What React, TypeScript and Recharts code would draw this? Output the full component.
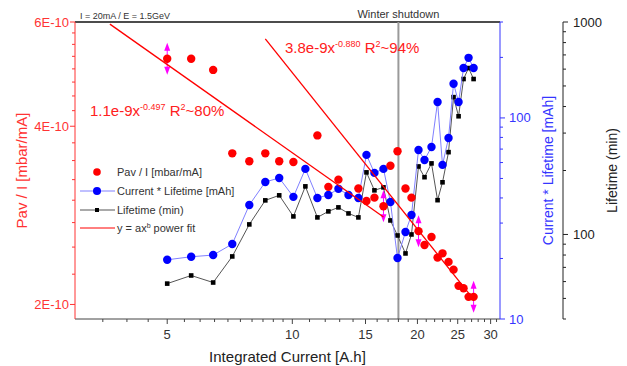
import {
  ComposedChart,
  Scatter,
  XAxis,
  YAxis,
  ReferenceLine,
  Legend,
} from "recharts";

// integrated current [A.h] for the lifetime series
const current = [
  5.0, 5.71, 6.45, 7.17, 7.88, 8.61, 9.3, 10.06, 10.75, 11.49, 12.21, 12.91,
  13.65, 14.42, 15.08, 15.76, 16.57, 17.22, 17.91, 18.72, 19.35, 20.12, 20.8,
  21.62, 22.36, 22.98, 23.76, 24.43, 25.12, 25.82, 26.55, 27.3,
];
const currentLifetime = [
  19.7, 20.4, 20.8, 23.6, 36.9, 48.0, 50.3, 40.5, 55.8, 40.0, 41.4, 44.4, 41.4,
  40.0, 65.5, 53.3, 55.8, 38.2, 20.1, 27.1, 32.9, 69.3, 61.8, 71.7, 120, 58.4,
  79.5, 148, 120, 177, 199, 177,
];
const lifetime = [
  58.7, 64.1, 59.4, 78.8, 111.5, 144.7, 152.8, 121.6, 168.4, 120.3, 128.4,
  134.1, 125.6, 120.3, 196, 161.3, 166.6, 116.4, 98.9, 81.4, 100, 209, 186,
  216, 145, 176, 244, 443, 360, 539, 607, 539,
];

// pressure / current
const pavCurrent = [
  5.0, 5.71, 6.45, 7.17, 7.88, 8.61, 9.3, 10.06, 11.49, 12.21, 12.91, 14.42,
  15.08, 15.76, 16.57, 17.22, 17.91, 18.72, 19.35, 20.12, 20.8, 21.62, 22.36,
  22.98, 23.76, 24.43, 25.12, 25.82, 26.55, 27.3,
];
const pavPerCurrent = [
  5.2e-10, 5.2e-10, 4.98e-10, 3.6e-10, 3.49e-10, 3.6e-10, 3.49e-10, 3.48e-10,
  3.86e-10, 3.16e-10, 3.25e-10, 3.14e-10, 2.99e-10, 3.03e-10, 2.93e-10,
  3.43e-10, 3.63e-10, 3.14e-10, 3.03e-10, 2.66e-10, 2.52e-10, 2.6e-10, 2.4e-10,
  2.44e-10, 2.36e-10, 2.29e-10, 2.15e-10, 2.13e-10, 2.06e-10, 2.06e-10,
];

// power fits (end points)
const fitLowCurrent = [3.64, 16.57];
const fitLowPav = [5.95e-10, 2.81e-10];
const fitHighCurrent = [8.61, 27.3];
const fitHighPav = [5.62e-10, 2.04e-10];

// error arrows
const arrowCurrent = [5.0, 16.57, 20.12, 27.3];
const arrowPav = [5.2e-10, 2.93e-10, 2.66e-10, 2.06e-10];

const shutdownAt = 18;

const xTicks = [
  3.5, 4, 4.5, 5, 5.5, 6, 6.5, 7, 7.5, 8, 8.5, 9, 9.5, 10, 11, 12, 13, 14, 15,
  16, 17, 18, 19, 20, 21, 22, 23, 24, 25, 26, 27, 28, 29, 30, 31,
];
const xMajor = [5, 10, 15, 20, 25, 30];

const leftTicks = [
  2e-10, 2.25e-10, 2.5e-10, 2.75e-10, 3e-10, 3.25e-10, 3.5e-10, 3.75e-10,
  4e-10, 4.25e-10, 4.5e-10, 4.75e-10, 5e-10, 5.25e-10, 5.5e-10, 5.75e-10,
  6e-10,
];
const leftMajor = [2e-10, 4e-10, 6e-10];
const leftLabels = ["2E-10", "4E-10", "6E-10"];

const blueTicks = [10, 20, 30, 40, 50, 60, 70, 80, 90, 100, 200, 300];
const blueMajor = [10, 100];

const blackTicks = [
  40, 50, 60, 70, 80, 90, 100, 200, 300, 400, 500, 600, 700, 800, 900, 1000,
];
const blackMajor = [100, 1000];

const legendLabels = [
  "Pav / I [mbar/mA]",
  "Current * Lifetime [mAh]",
  "Lifetime (min)",
  "power fit",
];

const RED = "#ff0000";
const RED_AXIS = "#ff3333";
const BLUE = "#0000ff";
const BLUE_AXIS = "#3535ff";

const zip = (xs: number[], ys: number[]) => xs.map((x, i) => ({ x, y: ys[i] }));

const pavData = zip(pavCurrent, pavPerCurrent);
const clData = zip(current, currentLifetime);
const ltData = zip(current, lifetime);
const fitLowData = zip(fitLowCurrent, fitLowPav);
const fitHighData = zip(fitHighCurrent, fitHighPav);
const arrowData = zip(arrowCurrent, arrowPav);

function XTick({ x, y, payload }: any) {
  const major = xMajor.includes(payload.value);
  const axisY = y - 11;
  return (
    <g>
      <line x1={x} x2={x} y1={axisY} y2={axisY + (major ? 5 : 3)} stroke="#444" />
      {major && (
        <text x={x} y={y} dy="0.71em" textAnchor="middle" fontSize={13} fill="#333">
          {payload.value}
        </text>
      )}
    </g>
  );
}

function LeftTick({ x, y, payload }: any) {
  const idx = leftMajor.indexOf(payload.value);
  const axisX = x + 6;
  return (
    <g>
      <line x1={axisX} x2={axisX - (idx >= 0 ? 5 : 3)} y1={y} y2={y} stroke={RED_AXIS} />
      {idx >= 0 && (
        <text x={x} y={y} dy="0.35em" textAnchor="end" fontSize={13} fill={RED_AXIS}>
          {leftLabels[idx]}
        </text>
      )}
    </g>
  );
}

function BlueTick({ x, y, payload }: any) {
  const major = blueMajor.includes(payload.value);
  const axisX = x - 9;
  return (
    <g>
      <line x1={axisX} x2={axisX + (major ? 5 : 3)} y1={y} y2={y} stroke={BLUE_AXIS} />
      {major && (
        <text x={x} y={y} dy="0.35em" textAnchor="start" fontSize={13} fill={BLUE_AXIS}>
          {payload.value}
        </text>
      )}
    </g>
  );
}

function BlackTick({ x, y, payload }: any) {
  const major = blackMajor.includes(payload.value);
  const axisX = x - 10;
  return (
    <g>
      <line x1={axisX} x2={axisX + (major ? 5 : 3)} y1={y} y2={y} stroke="#222" />
      {major && (
        <text x={x} y={y} dy="0.35em" textAnchor="start" fontSize={13} fill="#222">
          {payload.value}
        </text>
      )}
    </g>
  );
}

const RedDot = (p: any) => <circle cx={p.cx} cy={p.cy} r={4.2} fill={RED} />;
const BlueDot = (p: any) => <circle cx={p.cx} cy={p.cy} r={4.2} fill={BLUE} />;
const BlackSquare = (p: any) => (
  <rect x={p.cx - 2.3} y={p.cy - 2.3} width={4.6} height={4.6} fill="#000" />
);
const NoDot = () => <g />;
const Arrow = (p: any) => {
  const { cx, cy } = p;
  return (
    <g fill="#ff00ff" stroke="#ff00ff">
      <line x1={cx} x2={cx} y1={cy - 12} y2={cy + 12} strokeWidth={1} />
      <path d={`M${cx},${cy - 16} L${cx - 3},${cy - 8} L${cx + 3},${cy - 8} Z`} stroke="none" />
      <path d={`M${cx},${cy + 16} L${cx - 3},${cy + 8} L${cx + 3},${cy + 8} Z`} stroke="none" />
    </g>
  );
};

function LegendBox() {
  const rows = [10, 29, 48, 66];
  return (
    <svg width={200} height={80} style={{ display: "block" }}>
      <circle cx={19} cy={rows[0]} r={3.8} fill={RED} />
      <line x1={2} x2={37} y1={rows[1]} y2={rows[1]} stroke="#8080ff" />
      <circle cx={19} cy={rows[1]} r={4} fill={BLUE} />
      <line x1={2} x2={37} y1={rows[2]} y2={rows[2]} stroke="#555" />
      <rect x={17} y={rows[2] - 2} width={4} height={4} fill="#000" />
      <line x1={2} x2={37} y1={rows[3]} y2={rows[3]} stroke={RED} />
      {legendLabels.map((l, i) => (
        <text key={l} x={39} y={rows[i]} dy="0.35em" fontSize={11} fill="#333">
          {i === 3 ? (
            <>
              y = ax<tspan dy={-4} fontSize={7}>b</tspan>
              <tspan dy={4}>{" " + l}</tspan>
            </>
          ) : (
            l
          )}
        </text>
      ))}
    </svg>
  );
}

export default function App() {
  return (
    <div
      style={{
        position: "absolute",
        left: 0,
        top: 0,
        width: 627,
        height: 366,
        background: "#fff",
        fontFamily: "Arial, 'Liberation Sans', sans-serif",
      }}
    >
      <ComposedChart
        width={627}
        height={366}
        margin={{ top: 22, right: 0, bottom: 0, left: 0 }}
      >
        <XAxis
          dataKey="x"
          type="number"
          scale="log"
          domain={[3, 31.6]}
          allowDataOverflow
          ticks={xTicks}
          interval={0}
          height={47}
          stroke="#444"
          tickLine={false}
          tickSize={5}
          tickMargin={6}
          tick={(p: any) => <XTick {...p} />}
          label={{
            value: "Integrated Current [A.h]",
            position: "insideBottom",
            offset: 4,
            fontSize: 15,
            fill: "#222",
          }}
        />
        <YAxis
          yAxisId="left"
          dataKey="y"
          type="number"
          scale="log"
          domain={[1.89e-10, 6e-10]}
          allowDataOverflow
          ticks={leftTicks}
          interval={0}
          width={75}
          stroke={RED_AXIS}
          tickLine={false}
          tickSize={4}
          tickMargin={2}
          tick={(p: any) => <LeftTick {...p} />}
          label={{
            value: "Pav / I [mbar/mA]",
            angle: -90,
            position: "insideLeft",
            offset: 22,
            fontSize: 15,
            fill: RED_AXIS,
            style: { textAnchor: "middle" },
          }}
        />
        <YAxis
          yAxisId="cl"
          orientation="right"
          dataKey="y"
          type="number"
          scale="log"
          domain={[10, 300]}
          allowDataOverflow
          ticks={blueTicks}
          interval={0}
          width={63}
          stroke={BLUE_AXIS}
          tickLine={false}
          tickSize={4}
          tickMargin={5}
          tick={(p: any) => <BlueTick {...p} />}
          label={{
            value: "Current * Lifetime [mAh]",
            angle: -90,
            position: "insideRight",
            offset: 15,
            fontSize: 14,
            fill: BLUE_AXIS,
            style: { textAnchor: "middle" },
          }}
        />
        <YAxis
          yAxisId="lt"
          orientation="right"
          dataKey="y"
          type="number"
          scale="log"
          domain={[40, 1000]}
          allowDataOverflow
          ticks={blackTicks}
          interval={0}
          width={64}
          stroke="#222"
          tickLine={false}
          tickSize={5}
          tickMargin={5}
          tick={(p: any) => <BlackTick {...p} />}
          label={{
            value: "Lifetime (min)",
            angle: -90,
            position: "insideRight",
            offset: 15,
            fontSize: 14,
            fill: "#222",
            style: { textAnchor: "middle" },
          }}
        />

        <ReferenceLine
          yAxisId="left"
          y={6e-10}
          stroke="#111"
          strokeWidth={1.5}
          ifOverflow="visible"
        />
        <ReferenceLine
          yAxisId="left"
          x={shutdownAt}
          stroke="#9a9a9a"
          strokeWidth={2}
          label={{
            value: "Winter shutdown",
            position: "top",
            offset: 4,
            fontSize: 11,
            fill: "#333",
          }}
        />

        <Scatter
          yAxisId="lt"
          data={ltData}
          line={{ stroke: "#555", strokeWidth: 1 }}
          shape={BlackSquare}
          isAnimationActive={false}
        />
        <Scatter
          yAxisId="cl"
          data={clData}
          line={{ stroke: "#8080ff", strokeWidth: 1 }}
          shape={BlueDot}
          isAnimationActive={false}
        />
        <Scatter
          yAxisId="left"
          data={arrowData}
          shape={Arrow}
          isAnimationActive={false}
        />
        <Scatter
          yAxisId="left"
          data={pavData}
          shape={RedDot}
          isAnimationActive={false}
        />
        <Scatter
          yAxisId="left"
          data={fitLowData}
          line={{ stroke: RED, strokeWidth: 1.3 }}
          shape={NoDot}
          isAnimationActive={false}
        />
        <Scatter
          yAxisId="left"
          data={fitHighData}
          line={{ stroke: RED, strokeWidth: 1.3 }}
          shape={NoDot}
          isAnimationActive={false}
        />

        <Legend
          layout="vertical"
          align="center"
          verticalAlign="middle"
          wrapperStyle={{ left: 78, top: 162, width: 200, height: 80 }}
          content={() => <LegendBox />}
        />
      </ComposedChart>

      <svg
        width={627}
        height={366}
        style={{ position: "absolute", left: 0, top: 0, pointerEvents: "none" }}
      >
        <text x={80} y={19} fontSize={9} fill="#333">
          I = 20mA / E = 1.5GeV
        </text>
        <text x={90} y={116} fontSize={15} fill="#ff2020">
          1.1e-9x
          <tspan dy={-6} fontSize={9}>-0.497</tspan>
          <tspan dy={6}>{" R"}</tspan>
          <tspan dy={-6} fontSize={9}>2</tspan>
          <tspan dy={6}>~80%</tspan>
        </text>
        <text x={285} y={53} fontSize={15} fill="#ff2020">
          3.8e-9x
          <tspan dy={-6} fontSize={9}>-0.880</tspan>
          <tspan dy={6}>{" R"}</tspan>
          <tspan dy={-6} fontSize={9}>2</tspan>
          <tspan dy={6}>~94%</tspan>
        </text>
      </svg>
    </div>
  );
}
